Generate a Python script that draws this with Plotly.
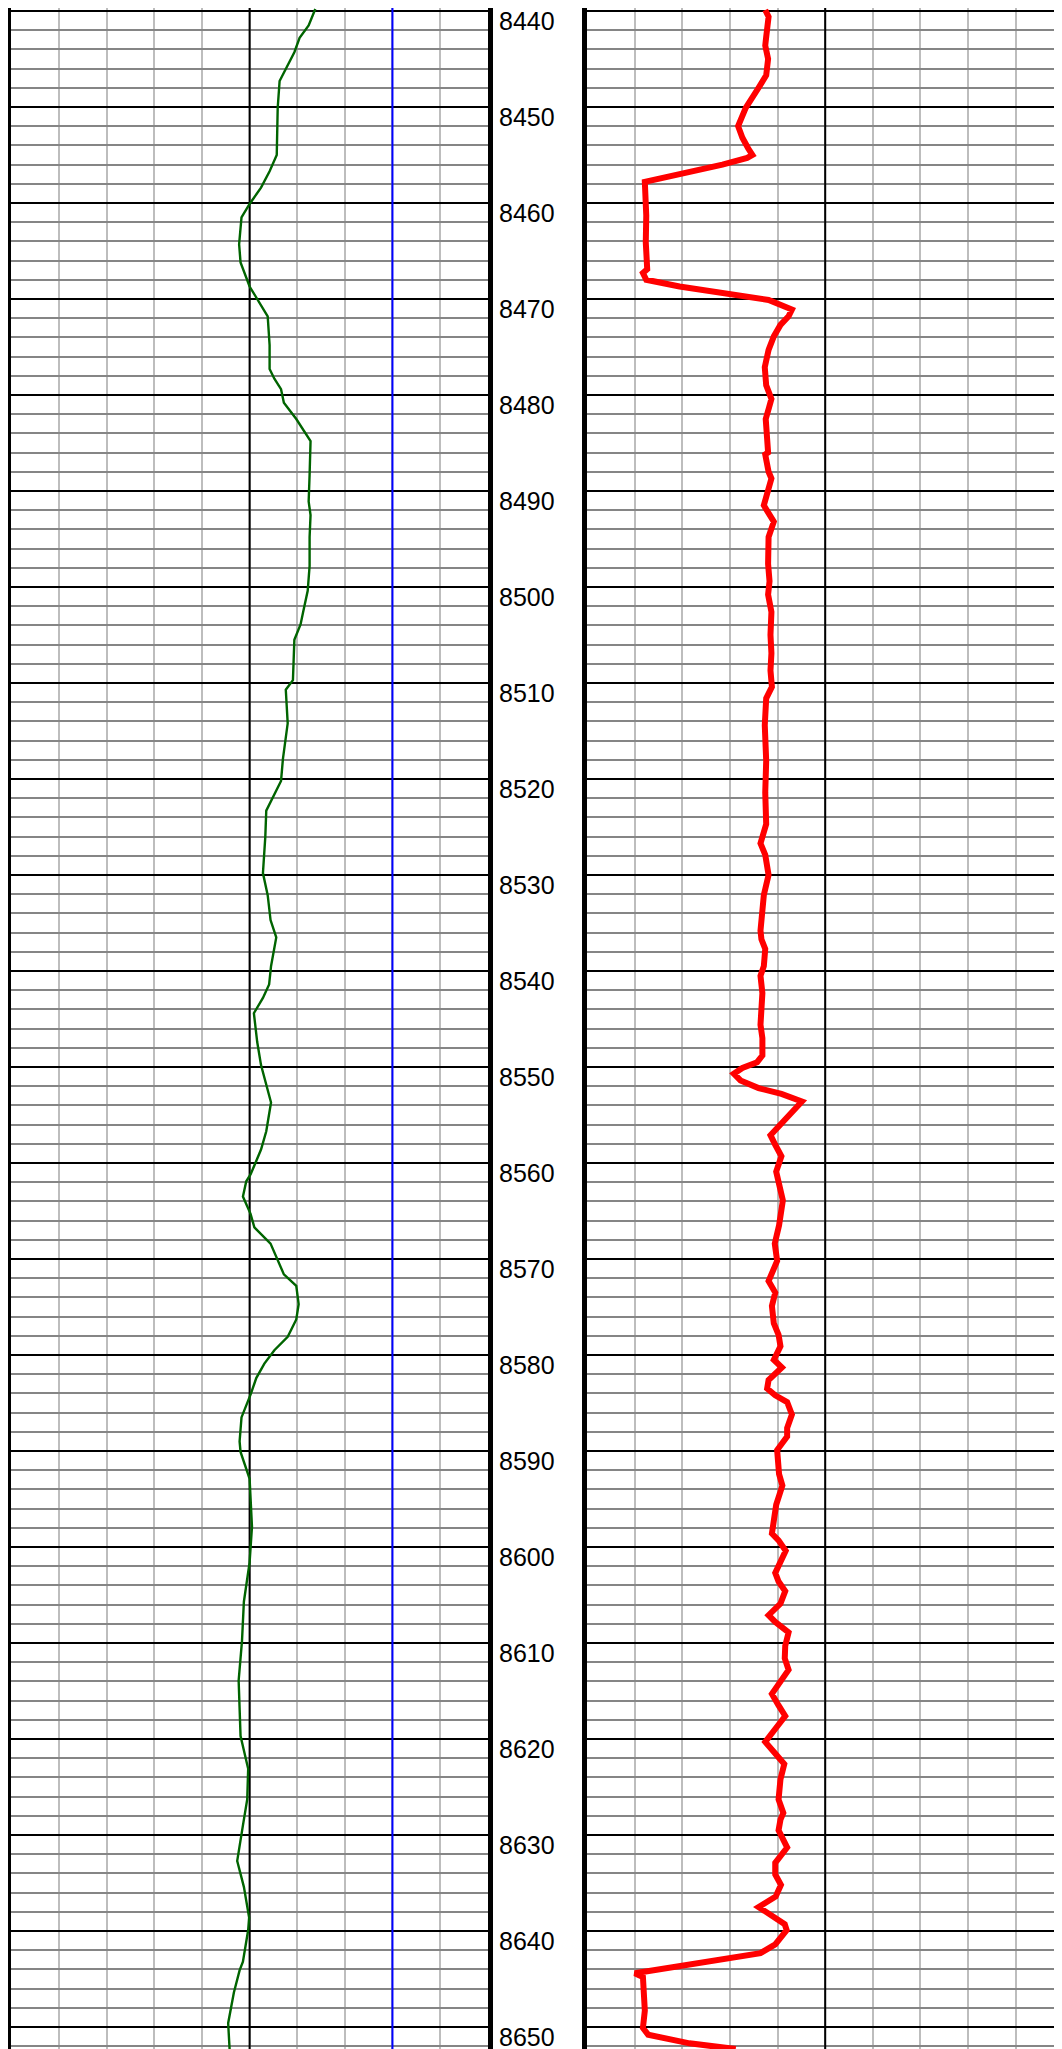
import plotly.graph_objects as go

# depth track labels
depth_labels = [str(d) for d in range(8440, 8660, 10)]

# left track curve (green)
left_depth = [8439.8, 8441.5, 8442.8, 8444.3, 8447.3, 8450.1, 8455.0, 8456.7, 8458.4, 8460.1,
              8461.5, 8464.3, 8466.2, 8468.7, 8471.8, 8474.8, 8477.3, 8478.3, 8479.4, 8480.8,
              8482.5, 8484.8, 8488.3, 8491.1, 8492.5, 8494.8, 8497.8, 8500.4, 8502.7, 8503.9,
              8505.5, 8509.7, 8510.7, 8514.2, 8517.9, 8520.2, 8523.3, 8526.0, 8529.8, 8532.1,
              8534.7, 8536.5, 8539.5, 8541.4, 8542.8, 8544.4, 8547.4, 8549.8, 8553.7, 8556.7,
              8558.6, 8561.2, 8561.9, 8563.5, 8565.3, 8566.7, 8568.4, 8571.6, 8572.8, 8574.7,
              8576.3, 8578.1, 8579.5, 8580.9, 8582.4, 8584.0, 8586.5, 8589.0, 8590.1, 8592.9,
              8597.9, 8601.6, 8605.7, 8609.8, 8613.9, 8619.7, 8623.1, 8626.3, 8629.0, 8632.7,
              8635.4, 8638.6, 8639.9, 8643.2, 8644.1, 8646.4, 8649.6, 8652.3]
left_curve = [63.8, 62.4, 60.5, 59.4, 56.3, 55.9, 55.7, 54.2, 52.4, 50.0,
              48.3, 47.8, 48.1, 50.0, 53.8, 54.2, 54.2, 55.2, 56.6, 57.2,
              59.8, 62.8, 62.6, 62.4, 62.8, 62.6, 62.6, 62.2, 61.2, 60.7,
              59.4, 59.1, 57.6, 58.0, 57.0, 56.6, 53.5, 53.3, 52.8, 53.8,
              54.4, 55.6, 54.5, 54.1, 52.8, 50.9, 51.6, 52.4, 54.5, 53.5,
              52.4, 50.2, 49.3, 48.6, 50.2, 51.0, 54.4, 57.2, 59.8, 60.3,
              59.8, 58.0, 55.2, 53.1, 51.4, 50.3, 48.3, 47.9, 48.1, 50.0,
              50.5, 50.0, 48.8, 48.4, 47.7, 48.1, 49.7, 49.5, 48.6, 47.4,
              48.8, 49.9, 49.7, 48.6, 47.9, 46.7, 45.5, 45.8]

# right track curve (red)
right_depth = [8439.9, 8440.6, 8442.7, 8443.6, 8445.0, 8446.7, 8448.0, 8450.1, 8452.0, 8453.2,
               8454.3, 8455.0, 8455.3, 8456.0, 8457.8, 8461.3, 8464.1, 8466.9, 8467.3, 8468.0,
               8468.7, 8469.4, 8470.1, 8471.1, 8471.8, 8472.7, 8473.9, 8475.3, 8477.1, 8479.0,
               8480.4, 8481.3, 8482.5, 8484.6, 8486.0, 8486.2, 8488.0, 8488.7, 8490.1, 8491.5,
               8493.2, 8494.8, 8497.6, 8499.4, 8500.8, 8502.6, 8505.0, 8506.9, 8508.7, 8510.4,
               8511.6, 8514.4, 8518.1, 8521.4, 8524.7, 8526.7, 8527.9, 8530.0, 8532.1, 8535.8,
               8536.7, 8537.7, 8539.5, 8540.5, 8542.3, 8545.6, 8547.0, 8548.8, 8549.5, 8550.1,
               8550.7, 8551.4, 8552.2, 8552.8, 8553.6, 8554.9, 8556.0, 8557.1, 8558.1, 8559.3,
               8560.9, 8562.3, 8563.9, 8566.5, 8568.4, 8570.2, 8572.3, 8573.5, 8574.9, 8576.7,
               8577.9, 8579.1, 8580.5, 8581.3, 8582.6, 8583.5, 8584.2, 8584.9, 8586.2, 8587.6,
               8588.5, 8589.9, 8592.4, 8593.6, 8595.6, 8598.6, 8599.3, 8600.4, 8601.8, 8602.7,
               8603.6, 8604.6, 8605.9, 8607.1, 8607.8, 8608.9, 8610.3, 8611.6, 8612.8, 8613.9,
               8615.3, 8616.5, 8617.6, 8618.7, 8620.3, 8621.5, 8622.6, 8624.2, 8626.3, 8627.7,
               8628.4, 8629.5, 8631.3, 8632.9, 8634.1, 8635.2, 8636.4, 8637.5, 8638.0, 8639.3,
               8639.9, 8641.4, 8642.3, 8643.5, 8644.4, 8644.8, 8648.3, 8650.1, 8650.8, 8651.7,
               8652.3]
right_curve = [37.4, 38.1, 37.6, 37.4, 38.0, 37.6, 36.0, 33.3, 31.7, 32.6,
               33.8, 34.7, 33.6, 28.4, 12.1, 12.4, 12.3, 12.6, 11.7, 12.4,
               19.4, 28.4, 38.1, 43.0, 42.3, 40.6, 39.2, 38.1, 37.3, 37.6,
               38.7, 38.2, 37.5, 37.8, 38.0, 37.4, 38.1, 38.7, 37.8, 37.1,
               39.2, 38.1, 38.0, 38.3, 38.0, 38.7, 38.5, 38.7, 38.5, 38.8,
               37.6, 37.3, 37.6, 37.4, 37.6, 36.4, 37.4, 38.1, 37.1, 36.4,
               36.6, 37.4, 37.1, 36.4, 36.8, 36.4, 36.8, 36.8, 35.7, 32.6,
               30.8, 32.2, 36.0, 40.8, 45.1, 42.6, 40.8, 38.5, 39.5, 40.8,
               39.7, 40.3, 41.1, 40.3, 39.4, 39.9, 38.1, 39.5, 38.8, 39.2,
               40.2, 40.6, 39.2, 40.9, 38.1, 37.8, 39.5, 42.0, 43.0, 42.0,
               42.0, 39.9, 40.3, 41.0, 39.7, 38.8, 40.2, 41.7, 40.2, 39.5,
               40.2, 41.6, 40.6, 38.1, 39.5, 42.3, 41.6, 41.5, 42.3, 40.6,
               38.8, 40.2, 41.6, 39.9, 37.4, 39.5, 41.4, 40.6, 40.2, 41.2,
               40.6, 40.2, 42.0, 39.5, 39.5, 40.7, 39.6, 36.0, 37.4, 41.5,
               41.9, 39.5, 36.4, 20.1, 10.0, 11.7, 12.1, 11.7, 12.8, 21.5,
               31.2]

# reference lines in the tracks
left_mid_line = 50
left_cutoff_line = 80
right_mid_line = 50

# the page body keeps its default 8px margin, so the figure is 8px smaller
W, H = 1054, 2041
depth_top, depth_bottom = 8439.69, 8652.29

fig = go.Figure()

# straight reference lines first so the curves sit on top
for xv, col, ax in [(left_mid_line, 'black', 'x'), (left_cutoff_line, '#0000ff', 'x'),
                    (right_mid_line, 'black', 'x2')]:
    fig.add_trace(go.Scatter(x=[xv, xv], y=[depth_top, depth_bottom], mode='lines',
                             line=dict(color=col, width=2), hoverinfo='skip',
                             xaxis=ax, yaxis='y' if ax == 'x' else 'y2'))

fig.add_trace(go.Scatter(x=left_curve, y=left_depth, mode='lines',
                         line=dict(color='#006400', width=2.4), xaxis='x', yaxis='y'))
fig.add_trace(go.Scatter(x=right_curve, y=right_depth, mode='lines',
                         line=dict(color='#ff0000', width=6), xaxis='x2', yaxis='y2'))

# vertical divisions as minor grid so the horizontal grey lines draw over them
xgrid = dict(range=[0, 100], dtick=100, showgrid=False,
             minor=dict(dtick=10, showgrid=True, gridcolor='#bdbdbd', gridwidth=2),
             showticklabels=False, ticks='', zeroline=False, showline=False, fixedrange=True)
ygrid = dict(range=[depth_bottom, depth_top], dtick=10, showgrid=True, gridcolor='black',
             gridwidth=2, showticklabels=False, ticks='', zeroline=False,
             showline=True, linecolor='black', linewidth=5, mirror=True,
             minor=dict(dtick=2, showgrid=True, gridcolor='#858585', gridwidth=2),
             domain=[0, 1])

fig.update_layout(
    width=W, height=H,
    margin=dict(l=0, r=0, t=0, b=0),
    paper_bgcolor='white', plot_bgcolor='white',
    showlegend=False,
    xaxis=dict(xgrid, domain=[3.5 / W, 482 / W], anchor='y'),
    xaxis2=dict(xgrid, domain=[582 / W, 1.0], range=[0, 98.7], anchor='y2'),
    yaxis=dict(ygrid, anchor='x'),
    yaxis2=dict(ygrid, anchor='x2', matches='y'),
)

# depth labels in the gap between the tracks
for lab in depth_labels:
    fig.add_annotation(x=491 / W, xref='paper', y=float(lab), yref='y',
                       text=lab, showarrow=False, xanchor='left', yanchor='top',
                       yshift=6, font=dict(family='Arial, Liberation Sans', size=25, color='black'))

fig.write_html("out.html")
